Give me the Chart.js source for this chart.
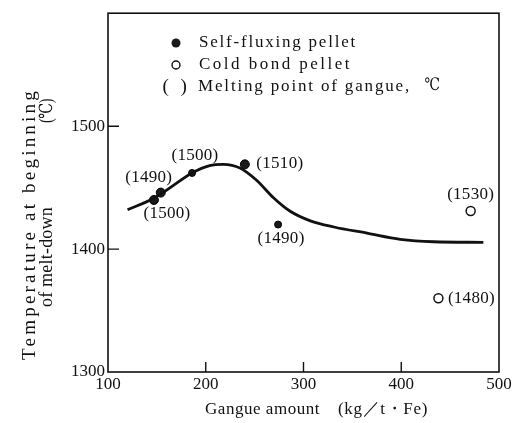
<!DOCTYPE html>
<html><head><meta charset="utf-8">
<script src="https://cdn.jsdelivr.net/npm/chart.js@4.4.0/dist/chart.umd.min.js"></script>
<style>html,body{margin:0;padding:0;background:#fff;}#wrap{width:521px;height:423px;position:relative;}</style>
</head><body><div id="wrap"><canvas id="c" width="521" height="423"></canvas></div>
<script>
// ---- data ----
const xTicks = [100, 200, 300, 400, 500];
const yTicks = [1300, 1400, 1500];
const curveX = [120, 146, 158, 186, 204, 218, 235, 252, 269, 286, 307, 331, 365, 399, 433, 484];
const curveY = [1432, 1441, 1447, 1462, 1468, 1469, 1466, 1456, 1442, 1431, 1423, 1418, 1413, 1408, 1406, 1405.5];
const selfX = [147, 154, 186, 240, 274];
const selfY = [1440, 1446, 1462, 1469, 1420];
const selfMelt = ['(1500)', '(1490)', '(1500)', '(1510)', '(1490)'];
const coldX = [471, 438];
const coldY = [1431, 1360];
const coldMelt = ['(1530)', '(1480)'];

// ---- presentation ----
const FONT = "'Liberation Serif','DejaVu Serif','Times New Roman',serif";
const INK = '#111';
const selfOffsets = [[13, 14], [-12, -15], [3, -17], [35, -1], [3, 14]];
const coldOffsets = [[0, -17], [33, 0]];

function fitText(ctx, text, x, y, w, align) {
  ctx.save();
  try { ctx.letterSpacing = '0px'; } catch (e) {}
  const nat = ctx.measureText(text).width;
  const n = [...text].length;
  let ls = (w - nat) / n;
  ls = Math.max(-0.6, Math.min(3, ls));
  try { ctx.letterSpacing = ls + 'px'; } catch (e) { ls = 0; }
  const cur = ctx.measureText(text).width;
  const sx = w / cur;
  let left = x;
  if (align === 'center') left = x - w / 2;
  else if (align === 'right') left = x - w;
  ctx.translate(left, y);
  ctx.scale(sx, 1);
  ctx.textAlign = 'left';
  ctx.fillText(text, 0, 0);
  ctx.restore();
}

const decor = {
  id: 'decor',
  afterDatasetsDraw(chart) {
    const ctx = chart.ctx, a = chart.chartArea;
    const xs = chart.scales.x, ys = chart.scales.y;
    ctx.save();
    ctx.strokeStyle = INK;
    ctx.lineWidth = 1.6;
    ctx.strokeRect(a.left, a.top, a.right - a.left, a.bottom - a.top);
    // inward ticks
    ctx.lineWidth = 1.4;
    ctx.beginPath();
    yTicks.forEach(v => {
      if (v === ys.min) return;
      const py = ys.getPixelForValue(v);
      ctx.moveTo(a.left, py); ctx.lineTo(a.left + 11, py);
    });
    xTicks.forEach(v => {
      if (v === xs.min || v === xs.max) return;
      const px = xs.getPixelForValue(v);
      ctx.moveTo(px, a.bottom); ctx.lineTo(px, a.bottom - 10);
    });
    ctx.stroke();

    ctx.fillStyle = INK;
    ctx.textBaseline = 'middle';
    // melting point labels
    ctx.font = '17px ' + FONT;
    selfMelt.forEach((t, i) => {
      const px = xs.getPixelForValue(selfX[i]) + selfOffsets[i][0];
      const py = ys.getPixelForValue(selfY[i]) + selfOffsets[i][1];
      fitText(ctx, t, px, py, 47, 'center');
    });
    coldMelt.forEach((t, i) => {
      const px = xs.getPixelForValue(coldX[i]) + coldOffsets[i][0];
      const py = ys.getPixelForValue(coldY[i]) + coldOffsets[i][1];
      fitText(ctx, t, px, py, 47, 'center');
    });

    // legend
    ctx.beginPath(); ctx.arc(176, 43, 4.5, 0, Math.PI * 2); ctx.fillStyle = '#1a1a1a'; ctx.fill();
    ctx.beginPath(); ctx.arc(176, 65, 4, 0, Math.PI * 2); ctx.fillStyle = '#fff'; ctx.fill();
    ctx.lineWidth = 1.4; ctx.stroke();
    ctx.fillStyle = INK;
    ctx.font = '17px ' + FONT;
    fitText(ctx, 'Self-fluxing pellet', 199, 43, 158, 'left');
    fitText(ctx, 'Cold bond pellet', 199, 65, 153, 'left');
    ctx.font = '19px ' + FONT;
    fitText(ctx, '(  )', 175, 87, 25, 'center');
    ctx.font = '17px ' + FONT;
    fitText(ctx, 'Melting point of gangue,', 198, 87, 213, 'left');
    fitText(ctx, '\u2103', 432, 86, 15, 'center');

    // axis titles
    ctx.font = '17px ' + FONT;
    fitText(ctx, 'Gangue amount', 205, 410, 115, 'left');
    fitText(ctx, '(kg\uFF0Ft\u30FBFe)', 338, 410, 90, 'left');
    ctx.font = '18px ' + FONT;
    ctx.save();
    ctx.translate(30, 224);
    ctx.rotate(-Math.PI / 2);
    fitText(ctx, 'Temperature at beginning', 0, 0, 272, 'center');
    ctx.restore();
    ctx.save();
    ctx.translate(47, 307);
    ctx.rotate(-Math.PI / 2);
    fitText(ctx, 'of melt-down', 0, 0, 100, 'left');
    fitText(ctx, '(\u2103)', 184, 0, 24, 'left');
    ctx.restore();
    ctx.restore();
  }
};

new Chart(document.getElementById('c'), {
  type: 'scatter',
  data: {
    datasets: [
      {
        label: 'Curve',
        data: curveX.map((x, i) => ({ x, y: curveY[i] })),
        showLine: true, borderColor: INK, borderWidth: 2.8, pointRadius: 0,
        cubicInterpolationMode: 'monotone', fill: false
      },
      {
        label: 'Self-fluxing pellet',
        data: selfX.map((x, i) => ({ x, y: selfY[i] })),
        pointRadius: [4.5, 4.5, 3.5, 4.5, 3.5], backgroundColor: '#1a1a1a', borderColor: '#000', borderWidth: 1
      },
      {
        label: 'Cold bond pellet',
        data: coldX.map((x, i) => ({ x, y: coldY[i] })),
        pointRadius: 4.5, backgroundColor: '#fff', borderColor: INK, borderWidth: 1.5
      }
    ]
  },
  options: {
    responsive: false, animation: false, devicePixelRatio: 1,
    layout: { padding: { left: 0, right: 22, top: 11, bottom: 0 } },
    plugins: { legend: { display: false }, tooltip: { enabled: false } },
    scales: {
      x: {
        type: 'linear', min: 100, max: 500,
        afterBuildTicks: s => { s.ticks = xTicks.map(v => ({ value: v })); },
        grid: { display: false, drawTicks: false }, border: { display: false },
        ticks: { padding: 2, color: INK, font: { family: FONT, size: 17 }, maxRotation: 0, autoSkip: false, callback: v => String(v) },
        afterFit: s => { s.height = 51; }
      },
      y: {
        type: 'linear', min: 1300, max: 1592,
        afterBuildTicks: s => { s.ticks = yTicks.map(v => ({ value: v })); },
        grid: { display: false, drawTicks: false }, border: { display: false },
        ticks: { padding: 3, color: INK, font: { family: FONT, size: 17 }, autoSkip: false, callback: v => String(v) },
        afterFit: s => { s.width = 108; }
      }
    }
  },
  plugins: [decor]
});
</script>
</body></html>
